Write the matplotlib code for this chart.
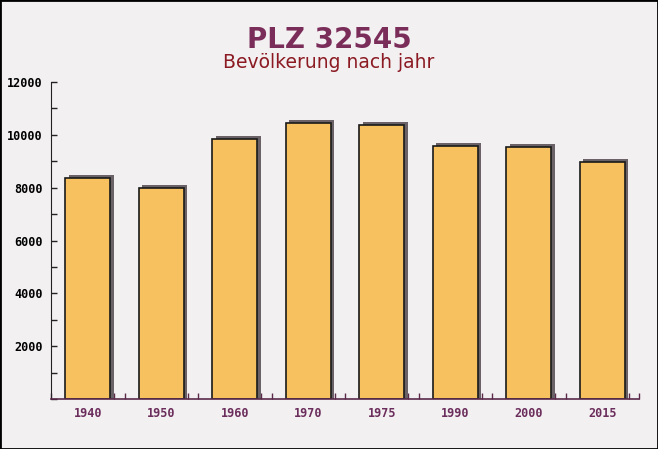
import matplotlib
matplotlib.use("Agg")
import matplotlib.pyplot as plt
import matplotlib.transforms as mtransforms
from matplotlib.ticker import MultipleLocator, FixedLocator
import numpy as np

years = ["1940", "1950", "1960", "1970", "1975", "1990", "2000", "2015"]
population = [8350, 8000, 9850, 10430, 10370, 9590, 9550, 8960]
y_ticks = [2000, 4000, 6000, 8000, 10000, 12000]

title = "PLZ 32545"
subtitle = "Bevölkerung nach jahr"

W, H = 658, 449
fig = plt.figure(figsize=(W / 100, H / 100), dpi=100)
fig.patch.set_facecolor("#f3f0f2")

# figure border
fig.add_artist(plt.Rectangle((0, 0), 1, 1, transform=fig.transFigure,
                             fill=False, edgecolor="black", linewidth=2))

ax = fig.add_axes([51 / W, 50 / H, (639 - 51) / W, (367 - 50) / H])
ax.set_facecolor("none")

x = np.arange(len(years))
bw = 0.61

shadow_tr = mtransforms.offset_copy(ax.transData, fig=fig, x=3.5, y=3, units="dots")
ax.bar(x, np.array(population) + 500, bottom=-500, width=bw, color="#6a6266",
       edgecolor="none", transform=shadow_tr, zorder=2, clip_on=True)
ax.bar(x, population, width=bw, color="#f7c160", edgecolor="#1a1a1a",
       linewidth=1.2, zorder=3)

ax.set_xlim(-0.5, len(years) - 0.5)
ax.set_ylim(0, 12000)

ax.set_xticks(x)
ax.set_xticklabels(years)
ax.xaxis.set_minor_locator(FixedLocator(
    list(np.arange(len(years) + 1) - 0.5) + list(np.arange(len(years)) + 0.36)))
ax.tick_params(axis="x", which="major", length=0, pad=6,
               labelcolor="#6b2d5b", labelsize=8.5)
ax.tick_params(axis="x", which="minor", direction="in", length=4,
               color="#5a2a4a", width=1)
for lab in ax.get_xticklabels():
    lab.set_fontfamily("DejaVu Sans Mono")
    lab.set_fontweight("bold")

ax.set_yticks(y_ticks)
ax.set_yticklabels([str(v) for v in y_ticks])
ax.yaxis.set_minor_locator(MultipleLocator(1000))
ax.tick_params(axis="y", which="both", direction="in", length=4,
               color="#222222", width=1, labelsize=8.5, pad=6)
for lab in ax.get_yticklabels():
    lab.set_fontfamily("DejaVu Sans Mono")
    lab.set_fontweight("bold")

for s in ["top", "right"]:
    ax.spines[s].set_visible(False)
ax.spines["left"].set_color("#222222")
ax.spines["bottom"].set_color("#5a2a4a")
ax.spines["bottom"].set_linewidth(1.2)
ax.spines["bottom"].set_zorder(4)

fig.text(0.5, 1 - 40 / H, title, ha="center", va="center",
         fontsize=20, fontweight="bold", color="#7b2d5a", family="DejaVu Sans")
fig.text(0.5, 1 - 62 / H, subtitle, ha="center", va="center",
         fontsize=13.5, color="#8b1a22", family="DejaVu Sans")

fig.savefig("out.png", dpi=100, facecolor=fig.get_facecolor())
